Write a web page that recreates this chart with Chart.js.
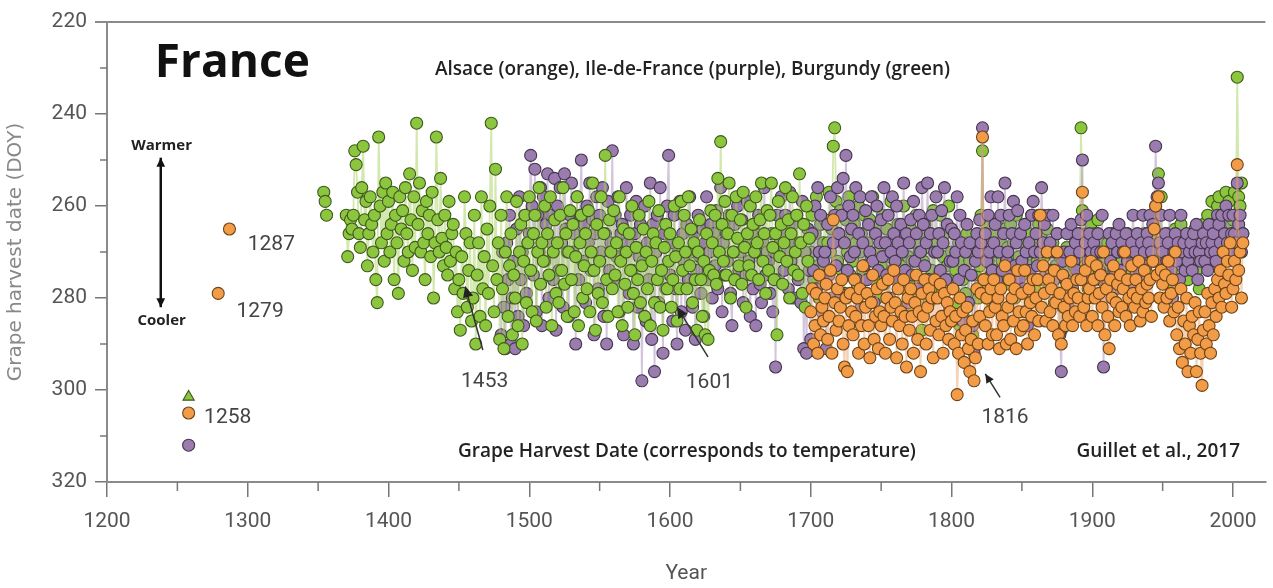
<!DOCTYPE html>
<html lang="en">
<head>
<meta charset="UTF-8" />
<title>France grape harvest dates</title>
<script src="https://cdn.jsdelivr.net/npm/chart.js"></script>
<style>
  html, body { margin: 0; padding: 0; background: #fff; }
  #wrap { width: 1273px; height: 588px; }
</style>
</head>
<body>
<div id="wrap"><canvas id="gh" width="1273" height="588"></canvas></div>
<script>
// isolated medieval years
const earlyYears = [1258, 1279, 1287];
const earlyAlsace = [305, 279, 265];
const earlyIdf = [312, null, null];
const earlyBurgundy = [301.5, null, null];

// Burgundy (green), one value per year from 1354
const burgundyStart = 1354;
const burgundyDoy = [
  257, 259, 262, null, null, null, null, null, null, null, null, null, null, null, null, null,
  262, 271, 266, 263, 265, 262, 248, 251, 257, 266,
  269, 256, 247, 263, 259, 273, 266, 258, 264, 270,
  262, 276, 281, 245, 260, 268, 257, 272, 255, 266,
  259, 270, 264, 257, 276, 262, 268, 279, 258, 265,
  261, 272, 256, 266, 270, 253, 263, 274, 258, 269,
  242, 264, 255, 270, 261, 268, 276, 259, 266, 262,
  271, 257, 280, 268, 245, 263, 270, 254, 267, 273,
  262, 269, 275, 259, 272, 266, 264, 278, 270, 283,
  276, 287, 271, 279, 258, 266, 282, 274, 268, 285,
  280, 262, 290, 275, 268, 284, 258, 278, 271, 286,
  265, 279, 260, 242, 273, 283, 252, 276, 268, 289,
  262, 278, 291, 270, 258, 284, 273, 266, 288, 275,
  280, 259, 286, 270, 264, 290, 272, 262, 281, 268,
  258, 274, 283, 266, 262, 285, 270, 256, 277, 268,
  272, 260, 282, 266, 275, 258, 286, 270, 263, 279,
  268, 281, 262, 274, 256, 277, 266, 284, 270, 261,
  276, 264, 283, 271, 258, 286, 268, 262, 280, 273,
  266, 278, 261, 283, 270, 255, 274, 287, 264, 279,
  272, 258, 281, 266, 249, 276, 284, 263, 270, 278,
  261, 275, 268, 283, 258, 272, 286, 265, 277, 270,
  282, 266, 274, 260, 279, 288, 269, 276, 262, 281,
  273, 265, 284, 270, 278, 259, 286, 272, 266, 281,
  268, 276, 261, 282, 274, 287, 269, 264, 278, 272,
  266, 282, 276, 260, 271, 285, 268, 278, 259, 274,
  262, 270, 278, 258, 273, 265, 281, 268, 276, 287,
  270, 263, 276, 284, 272, 288, 266, 289, 274, 261,
  268, 275, 262, 277, 254, 270, 246, 264, 272, 259,
  275, 266, 255, 280, 262, 270, 276, 258, 267, 273,
  263, 277, 257, 269, 282, 266, 273, 260, 275, 264,
  270, 258, 268, 276, 263, 255, 272, 266, 279, 261,
  274, 262, 255, 269, 276, 266, 288, 259, 271, 264,
  277, 268, 256, 272, 263, 280, 266, 258, 274, 270,
  262, 275, 253, 268, 279, 264, 282, 260, 272, 267,
  270, 262, 276, 266, 258, 273, 280, 264, 271, 268,
  263, 275, 268, 257, 270, 265, 247, 243, 259, 272,
  266, 261, 274, 268, 279, 263, 270, 258, 275, 267,
  272, 264, 268, 277, 260, 270, 266, 274, 262, 279,
  268, 275, 263, 271, 258, 276, 266, 280, 270, 264,
  273, 262, 277, 268, 265, 280, 271, 259, 274, 267,
  270, 276, 264, 282, 268, 273, 260, 278, 266, 271,
  277, 265, 272, 283, 268, 262, 279, 270, 266, 287,
  272, 264, 276, 269, 281, 266, 274, 261, 278, 270,
  268, 275, 262, 279, 271, 266, 284, 273, 260, 276,
  270, 278, 266, 274, 281, 268, 286, 272, 276, 269,
  279, 266, 285, 272, 270, 288, 290, 275, 268, 280,
  273, 262, 248, 270, 277, 264, 272, 268, 275, 281,
  266, 274, 270, 263, 278, 268, 272, 276, 265, 271,
  269, 277, 264, 272, 268, 280, 262, 274, 271, 266,
  275, 268, 283, 271, 279, 266, 273, 262, 270, 278,
  268, 272, 264, 276, 266, 262, 271, 274, 265, 278,
  270, 276, 268, 281, 273, 266, 279, 271, 287, 282,
  272, 276, 269, 274, 266, 270, 278, 273, 268, 275,
  271, 266, 243, 261, 269, 273, 266, 278, 270, 264,
  268, 274, 266, 271, 263, 269, 276, 268, 274, 271,
  276, 268, 273, 270, 266, 274, 271, 278, 269, 273,
  267, 272, 275, 269, 274, 266, 270, 277, 272, 268,
  273, 270, 276, 268, 272, 278, 269, 266, 274, 271,
  275, 269, 266, 272, 262, 260, 270, 253, 268, 258,
  272, 268, 275, 270, 266, 273, 278, 270, 268, 265,
  271, 275, 268, 264, 272, 270, 274, 267, 276, 270,
  268, 273, 270, 265, 274, 268, 278, 271, 266, 264,
  270, 266, 262, 268, 265, 259, 272, 264, 268, 260,
  258, 266, 262, 270, 264, 257, 262, 259, 266, 264,
  263, 257, 262, 232, 258, 260, 255, 266
];

// Ile-de-France (purple), one value per year from 1480
const idfStart = 1480;
const idfDoy = [
  288, 270, 282, 291, 268, 276, 262, 290, 280, 272,
  291, 265, 284, 258, 276, 270, 286, 262, 279, 268,
  266, 249, 260, 275, 252, 283, 262, 270, 256, 286,
  258, 272, 264, 253, 280, 262, 268, 276, 254, 287,
  260, 274, 256, 268, 282, 253, 265, 270, 284, 262,
  255, 270, 266, 290, 258, 276, 262, 250, 272, 264,
  281, 260, 268, 255, 274, 263, 288, 266, 258, 278,
  262, 270, 256, 284, 266, 290, 259, 274, 268, 248,
  276, 262, 271, 258, 283, 266, 264, 288, 270, 256,
  268, 279, 262, 274, 290, 266, 259, 282, 271, 264,
  298, 272, 260, 285, 268, 276, 255, 289, 264, 296,
  270, 262, 281, 256, 274, 292, 266, 278, 260, 249,
  275, 268, 285, 262, 278, 290, 270, 259, 283, 266,
  272, 287, 264, 276, 258, 270, 282, 266, 289, 274,
  262, 271, 279, 265, 284, 268, 258, 276, 270, 264,
  280, 266, 273, 261, 278, 270, 256, 283, 268, 275,
  266, 272, 262, 279, 286, 270, 264, 276, 260, 274,
  270, 263, 281, 268, 275, 259, 272, 284, 266, 278,
  264, 286, 270, 262, 277, 281, 268, 256, 275, 270,
  272, 279, 266, 283, 270, 295, 262, 276, 268, 258,
  266, 274, 262, 270, 278, 257, 272, 264, 280, 268,
  262, 276, 268, 281, 259, 291, 270, 292, 265, 274,
  289, 266, 274, 260, 278, 256, 270, 262, 283, 272,
  270, 291, 264, 275, 258, 280, 268, 262, 273, 256,
  266, 279, 262, 254, 268, 249, 274, 260, 271, 265,
  262, 270, 256, 276, 266, 258, 282, 268, 273, 261,
  276, 264, 270, 258, 272, 281, 266, 260, 274, 268,
  263, 271, 256, 268, 275, 262, 280, 270, 258, 266,
  272, 260, 268, 276, 264, 270, 255, 274, 266, 281,
  268, 263, 275, 259, 272, 266, 278, 262, 270, 256,
  264, 273, 268, 255, 276, 266, 262, 280, 270, 258,
  270, 266, 274, 261, 268, 256, 276, 264, 283, 272,
  265, 272, 266, 270, 258, 276, 262, 268, 285, 274,
  270, 264, 281, 268, 275, 286, 292, 272, 266, 270,
  263, 268, 243, 276, 266, 272, 262, 270, 258, 274,
  268, 264, 276, 258, 270, 262, 274, 266, 255, 272,
  270, 262, 275, 266, 259, 273, 268, 261, 276, 266,
  272, 278, 264, 270, 286, 268, 274, 262, 259, 270,
  266, 273, 262, 270, 256, 268, 264, 275, 270, 262,
  268, 274, 262, 276, 270, 266, 280, 288, 296, 272,
  270, 276, 266, 282, 270, 264, 278, 272, 268, 274,
  266, 270, 263, 250, 276, 268, 262, 272, 266, 270,
  272, 268, 276, 270, 266, 274, 270, 262, 295, 278,
  270, 276, 266, 272, 268, 278, 274, 266, 270, 264,
  274, 268, 270, 276, 266, 272, 270, 278, 268, 262,
  270, 274, 266, 272, 276, 268, 262, 270, 273, 266,
  268, 262, 270, 264, 272, 247, 258, 255, 268, 262,
  270, 276, 266, 272, 268, 262, 274, 280, 270, 266,
  272, 268, 276, 262, 270, 268, 274, 266, 272, 270,
  268, 274, 266, 270, 264, 276, 270, 272, 268, 266,
  272, 268, 274, 264, 270, 268, 266, 270, 272, 262,
  264, 268, 262, 270, 266, 260, 268, 262, 270, 266,
  262, 266, 268, 255, 264, 262, 270, 266
];

// Alsace (orange), one value per year from 1700
const alsaceStart = 1700;
const alsaceDoy = [
  283, 278, 290, 286, 279, 292, 275, 288, 282, 285,
  280, 277, 289, 284, 274, 292, 263, 281, 287, 278,
  285, 282, 276, 290, 295, 280, 296, 286, 279, 283,
  288, 276, 284, 280, 292, 278, 286, 273, 290, 282,
  279, 286, 293, 281, 275, 289, 284, 278, 291, 283,
  286, 277, 284, 292, 280, 276, 289, 282, 285, 274,
  281, 293, 278, 286, 283, 290, 276, 284, 295, 280,
  287, 278, 284, 292, 281, 275, 289, 283, 296, 279,
  284, 276, 290, 282, 278, 287, 280, 293, 276, 285,
  280, 288, 277, 284, 292, 279, 286, 281, 289, 283,
  285, 278, 290, 284, 301, 292, 280, 288, 283, 294,
  287, 282, 291, 296, 289, 285, 298, 293, 278, 290,
  284, 279, 245, 276, 286, 280, 290, 283, 278, 288,
  276, 282, 288, 280, 291, 278, 284, 286, 273, 290,
  282, 276, 289, 280, 285, 278, 291, 274, 283, 287,
  279, 286, 274, 283, 290, 278, 281, 284, 276, 288,
  280, 276, 285, 262, 282, 273, 279, 285, 270, 276,
  283, 278, 286, 274, 281, 270, 288, 279, 290, 275,
  282, 286, 277, 284, 280, 272, 286, 279, 283, 276,
  280, 284, 276, 257, 282, 274, 286, 280, 278, 272,
  284, 276, 280, 273, 286, 279, 275, 282, 270, 288,
  278, 284, 291, 276, 280, 273, 286, 281, 277, 283,
  275, 282, 278, 270, 284, 276, 280, 286, 273, 279,
  282, 276, 280, 272, 285, 278, 283, 274, 281, 277,
  280, 276, 284, 272, 265, 260, 275, 258, 280, 274,
  277, 282, 275, 280, 272, 285, 279, 276, 283, 270,
  288, 282, 291, 278, 294, 285, 290, 280, 296, 286,
  292, 284, 288, 281, 296, 289, 283, 292, 299, 287,
  283, 290, 279, 286, 292, 281, 288, 278, 284, 276,
  280, 274, 282, 270, 277, 279, 272, 275, 268, 282,
  278, 272, 276, 251, 274, 270, 280, 268
];

const xTicks = [1200, 1300, 1400, 1500, 1600, 1700, 1800, 1900, 2000];
const yTicks = [220, 240, 260, 280, 300, 320];

const GREEN = '#8cc63f', GREEN_EDGE = '#3f5a1c', GREEN_LINE = 'rgba(165,210,90,0.5)';
const PURPLE = '#9a7cae', PURPLE_EDGE = '#45364f', PURPLE_LINE = 'rgba(165,140,185,0.5)';
const ORANGE = '#f29c48', ORANGE_EDGE = '#6e4419', ORANGE_LINE = 'rgba(235,165,105,0.5)';
const NUM_FONT = 'Roboto';

function toPoints(start, vals) {
  return vals.map((v, i) => ({ x: start + i, y: v }));
}
function earlyPoints(vals) {
  return earlyYears.map((yr, i) => ({ x: yr, y: vals[i] }));
}

function dotSet(data, fill, edge, line, order, extra) {
  return Object.assign({
    data: data,
    showLine: true,
    spanGaps: false,
    borderColor: line,
    borderWidth: 1.8,
    pointRadius: 6,
    pointBackgroundColor: fill,
    pointBorderColor: edge,
    pointBorderWidth: 1.1,
    order: order
  }, extra || {});
}

const burgundyPts = toPoints(burgundyStart, burgundyDoy);

// texts and arrows drawn on top of the points, positioned in year / DOY units
const overlay = {
  id: 'overlay',
  afterDatasetsDraw(chart) {
    const { ctx, chartArea: a } = chart;
    const sx = chart.scales.x, sy = chart.scales.y;
    const px = v => sx.getPixelForValue(v);
    const py = v => sy.getPixelForValue(v);
    ctx.save();

    // top frame line
    ctx.strokeStyle = '#8a8a8a';
    ctx.lineWidth = 2;
    ctx.beginPath();
    ctx.moveTo(a.left - 12, a.top);
    ctx.lineTo(a.right, a.top);
    ctx.stroke();

    // minor ticks
    ctx.strokeStyle = '#777';
    ctx.lineWidth = 1.5;
    [230, 250, 270, 290, 310].forEach(v => {
      ctx.beginPath(); ctx.moveTo(a.left - 7, py(v)); ctx.lineTo(a.left, py(v)); ctx.stroke();
    });
    [1250, 1350, 1450, 1550, 1650, 1750, 1850, 1950].forEach(v => {
      ctx.beginPath(); ctx.moveTo(px(v), a.bottom); ctx.lineTo(px(v), a.bottom + 9); ctx.stroke();
    });

    function text(str, x, y, font, color, align) {
      ctx.font = font;
      ctx.fillStyle = color;
      ctx.textAlign = align || 'left';
      ctx.textBaseline = 'middle';
      ctx.fillText(str, x, y);
    }
    function arrow(x1, y1, x2, y2, head) {
      const ang = Math.atan2(y2 - y1, x2 - x1);
      ctx.beginPath(); ctx.moveTo(x1, y1); ctx.lineTo(x2, y2); ctx.stroke();
      ctx.beginPath();
      ctx.moveTo(x2, y2);
      ctx.lineTo(x2 - head * Math.cos(ang - 0.45), y2 - head * Math.sin(ang - 0.45));
      ctx.lineTo(x2 - head * Math.cos(ang + 0.45), y2 - head * Math.sin(ang + 0.45));
      ctx.closePath(); ctx.fill();
    }

    text('France', px(1234), py(229), 'bold 46px "Open Sans"', '#111');
    text('Alsace (orange), Ile-de-France (purple), Burgundy (green)', px(1616), py(230.4),
      '600 19px "Open Sans"', '#222', 'center');
    text('Grape Harvest Date (corresponds to temperature)', px(1612), py(313.3),
      '600 19px "Open Sans"', '#222', 'center');
    text('Guillet et al., 2017', px(2005), py(313.3), '600 19px "Open Sans"', '#222', 'right');

    text('Warmer', px(1238.8), py(247), 'bold 15px "Open Sans"', '#222', 'center');
    text('Cooler', px(1238.8), py(285), 'bold 15px "Open Sans"', '#222', 'center');
    ctx.strokeStyle = '#111';
    ctx.fillStyle = '#111';
    ctx.lineWidth = 2.5;
    arrow(px(1238.2), py(265), px(1238.2), py(249.5), 10);
    arrow(px(1238.2), py(265), px(1238.2), py(282), 10);

    const lab = '21px ' + NUM_FONT;
    text('1287', px(1300), py(268.5), lab, '#444');
    text('1279', px(1292), py(283), lab, '#444');
    text('1258', px(1269), py(306), lab, '#444');
    text('1453', px(1468.3), py(298.3), lab, '#444', 'center');
    text('1601', px(1628), py(298.5), lab, '#444', 'center');
    text('1816', px(1838), py(306), lab, '#444', 'center');

    ctx.strokeStyle = '#333';
    ctx.fillStyle = '#222';
    ctx.lineWidth = 1.5;
    arrow(px(1467), py(291.3), px(1454.5), py(277.5), 12);
    arrow(px(1627), py(292.8), px(1605), py(282), 12);
    arrow(px(1834.5), py(301.6), px(1824), py(296.5), 10);

    ctx.restore();
  }
};

new Chart(document.getElementById('gh'), {
  type: 'line',
  data: {
    datasets: [
      dotSet(toPoints(alsaceStart, alsaceDoy), ORANGE, ORANGE_EDGE, ORANGE_LINE, 1),
      dotSet(burgundyPts.filter(p => p.x < 1700), GREEN, GREEN_EDGE, GREEN_LINE, 2),
      dotSet(toPoints(idfStart, idfDoy), PURPLE, PURPLE_EDGE, PURPLE_LINE, 3),
      dotSet(burgundyPts.filter(p => p.x >= 1699), GREEN, GREEN_EDGE, GREEN_LINE, 4),
      dotSet(earlyPoints(earlyAlsace), ORANGE, ORANGE_EDGE, ORANGE_LINE, 1, { showLine: false }),
      dotSet(earlyPoints(earlyIdf), PURPLE, PURPLE_EDGE, PURPLE_LINE, 3, { showLine: false }),
      dotSet(earlyPoints(earlyBurgundy), GREEN, GREEN_EDGE, GREEN_LINE, 2,
        { showLine: false, pointStyle: 'triangle', pointRadius: 6.5 })
    ]
  },
  options: {
    responsive: false,
    animation: false,
    events: [],
    layout: { padding: { top: 22, right: 0, left: 0, bottom: 0 } },
    plugins: { legend: { display: false }, tooltip: { enabled: false } },
    scales: {
      x: {
        type: 'linear',
        min: 1200,
        max: 2023,
        afterBuildTicks: s => { s.ticks = xTicks.map(v => ({ value: v })); },
        afterFit: s => { s.height = 106; },
        ticks: { padding: 12, color: '#555', font: { family: NUM_FONT, size: 21 }, callback: v => String(v) },
        grid: { display: true, drawOnChartArea: false, tickLength: 15, color: '#777', lineWidth: 1.5 },
        border: { display: true, color: '#8a8a8a', width: 2 },
        title: { display: true, text: 'Year', color: '#555', padding: { top: 0, bottom: 2 },
          font: { family: NUM_FONT, size: 21 } }
      },
      y: {
        type: 'linear',
        reverse: true,
        min: 220,
        max: 320,
        afterBuildTicks: s => { s.ticks = yTicks.map(v => ({ value: v })); },
        afterFit: s => { s.width = 107; },
        ticks: { padding: 8, color: '#555', font: { family: NUM_FONT, size: 21 }, callback: v => String(v) },
        grid: { display: true, drawOnChartArea: false, tickLength: 12, color: '#777', lineWidth: 1.5 },
        border: { display: true, color: '#8a8a8a', width: 2 },
        title: { display: true, text: 'Grape harvest date (DOY)', color: '#888', padding: { top: 4, bottom: 0 },
          font: { family: 'DejaVu Sans', size: 20 } }
      }
    }
  },
  plugins: [overlay]
});
</script>
</body>
</html>
